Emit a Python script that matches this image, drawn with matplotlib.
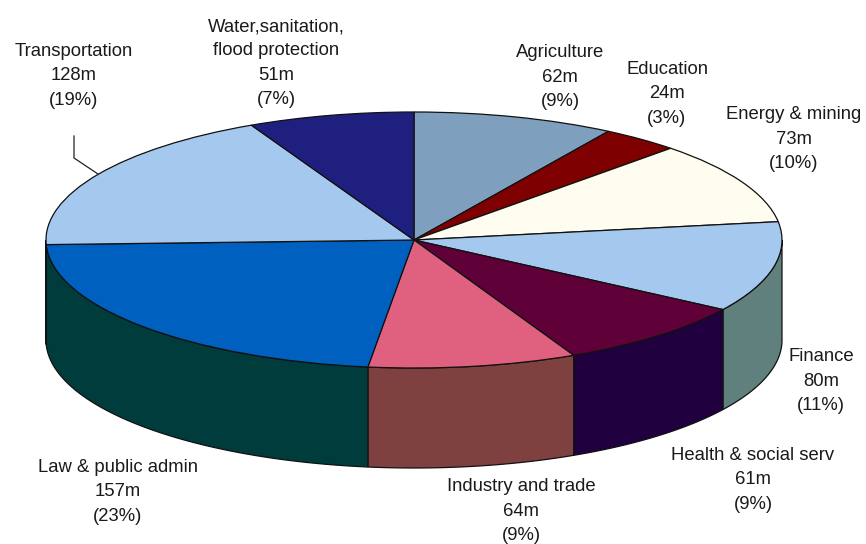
import numpy as np
import matplotlib
matplotlib.use("Agg")
import matplotlib.pyplot as plt
from matplotlib.lines import Line2D

plt.rcParams['font.family'] = ['Liberation Sans', 'DejaVu Sans']

sectors = ["Agriculture", "Education", "Energy & mining", "Finance", "Health & social serv",
           "Industry and trade", "Law & public admin", "Transportation",
           "Water,sanitation,\nflood protection"]
amounts = [62, 24, 73, 80, 61, 64, 157, 128, 51]
percent = [9, 3, 10, 11, 9, 9, 23, 19, 7]
top_colors = ["#7f9fbf", "#7f0000", "#fffcf0", "#a5c8ef", "#5f0038",
              "#e06080", "#0060c0", "#a5c8ef", "#1f1f7f"]
side_colors = ["#5f7f90", "#5f0000", "#bfbdb4", "#5f807d", "#20003f",
               "#7f4040", "#003c3c", "#7c96b3", "#17175f"]
label_centers = [(560, 77), (667, 94), (794, 139), (821, 381), (753, 480),
                 (521, 511), (118, 492), (74, 76), (276, 63)]

W, H = 866, 544
CX, CY, RX, RY, DEPTH = 414, 240, 368, 128, 100
EDGE = "#111111"

fig = plt.figure(figsize=(W / 100, H / 100), dpi=100)
ax = fig.add_axes([0, 0, 1, 1])
wedges, _ = ax.pie(amounts, colors=top_colors, startangle=90, counterclock=False, radius=1,
                   wedgeprops=dict(edgecolor=EDGE, linewidth=0.9, zorder=5))
ax.set_aspect('auto')
ax.set_xlim(-CX / RX, (W - CX) / RX)
ax.set_ylim(-(H - CY) / RY, CY / RY)
ax.set_frame_on(False)

depth = DEPTH / RY
for w, c in zip(wedges, side_colors):
    a, b = w.theta1 % 360, w.theta2 % 360
    if b <= a:
        b += 360
    # visible wall: the front half of the rim (180..360 degrees)
    lo, hi = max(a, 180), min(b, 360)
    if hi <= lo:
        continue
    t = np.radians(np.linspace(lo, hi, 80))
    x, y = np.cos(t), np.sin(t)
    ax.fill(np.r_[x, x[::-1]], np.r_[y, y[::-1] - depth], facecolor=c,
            edgecolor=EDGE, linewidth=0.9, zorder=3)

for name, amt, pct, (lx, ly) in zip(sectors, amounts, percent, label_centers):
    fig.text(lx / W, 1 - ly / H, f"{name}\n{amt}m\n({pct}%)", ha='center', va='center',
             fontsize=13.3, color="#1a1a1a", linespacing=1.55)

fig.add_artist(Line2D(np.array([74, 74, 98]) / W, 1 - np.array([136, 158, 174]) / H,
                      color="#222222", linewidth=0.9))

fig.savefig("out.png", dpi=100)
